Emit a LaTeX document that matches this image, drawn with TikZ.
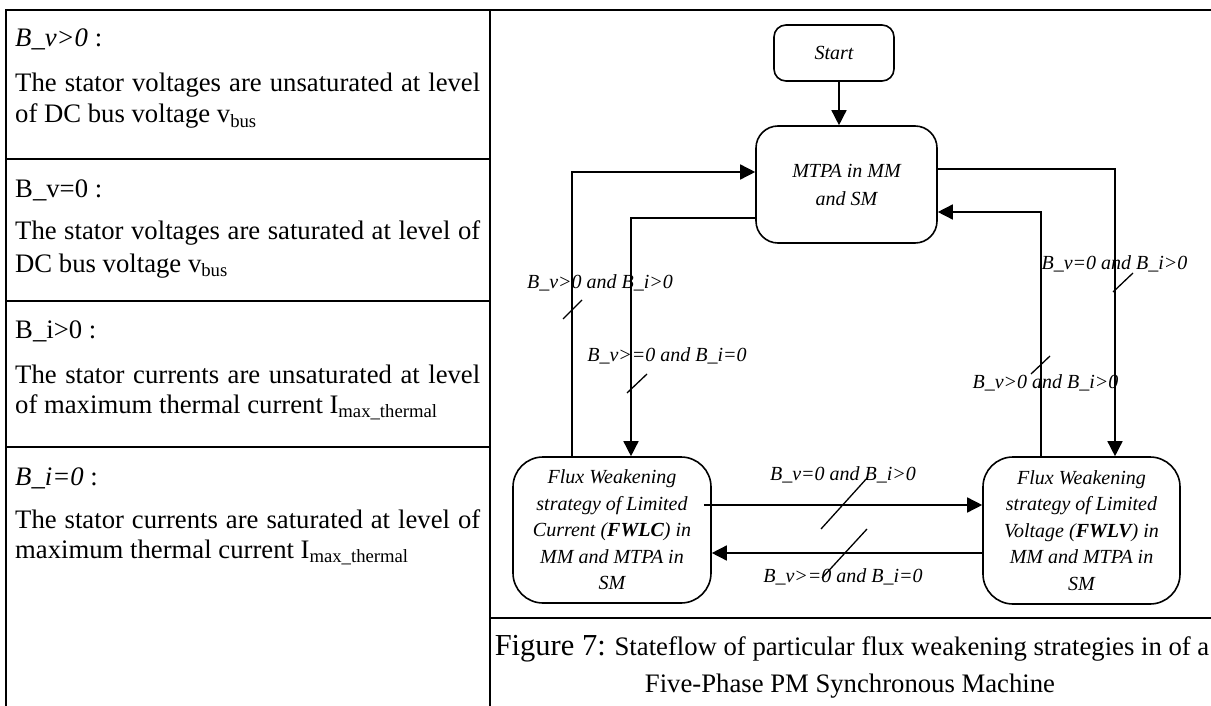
\documentclass[tikz,border=0pt]{standalone}
\usepackage{fontspec}
\setmainfont{Liberation Serif}
\usetikzlibrary{arrows.meta,calc}
\newcommand{\tabfont}{\fontsize{26.7pt}{31pt}\selectfont}
\newcommand{\diagfont}{\fontsize{20pt}{26.5pt}\selectfont\itshape}
\newcommand{\capbig}{\fontsize{30.5pt}{36pt}\selectfont}
\tikzset{
  border/.style={line width=2pt},
  tline/.style={anchor=base west, inner sep=0pt, font=\tabfont},
  capline/.style={anchor=base, inner sep=0pt, font=\tabfont},
  state/.style={draw, line width=1.6pt, align=center, inner sep=0pt, font=\diagfont},
  conn/.style={line width=1.5pt},
  arr/.style={conn, -{Triangle[length=15pt,width=15pt]}},
  lbl/.style={inner sep=0pt, font=\diagfont},
  tick/.style={line width=1.3pt}
}
\begin{document}
\begin{tikzpicture}[x=1pt,y=-1pt]
\useasboundingbox (0,0) rectangle (1211,706);
% ---- frame ----
\draw[border] (6,706) -- (6,10) -- (1213,10);
\draw[border] (490,10) -- (490,706);
\draw[border] (6,159) -- (490,159);
\draw[border] (6,301) -- (490,301);
\draw[border] (6,447) -- (490,447);
\draw[border] (490,618) -- (1213,618);
% ---- left table ----
\node[tline] (h1) at (15,47) {\textit{B\_v>0} :};
\node[tline] (p1a) at (15,92) {\makebox[465pt][s]{The stator voltages are unsaturated at level}};
\node[tline] (p1b) at (15,123) {of DC bus voltage v\textsubscript{bus}};
\node[tline] (h2) at (15,197) {B\_v=0 :};
\node[tline] (p2a) at (15,240) {\makebox[465pt][s]{The stator voltages are saturated at level of}};
\node[tline] (p2b) at (15,272) {DC bus voltage v\textsubscript{bus}};
\node[tline] (h3) at (15,338) {B\_i>0 :};
\node[tline] (p3a) at (15,383) {\makebox[465pt][s]{The stator currents are unsaturated at level}};
\node[tline] (p3b) at (15,413) {of maximum thermal current I\textsubscript{max\_thermal}};
\node[tline] (h4) at (15,485) {\textit{B\_i=0} :};
\node[tline] (p4a) at (15,528) {\makebox[465pt][s]{The stator currents are saturated at level of}};
\node[tline] (p4b) at (15,558) {maximum thermal current I\textsubscript{max\_thermal}};
% ---- states ----
\node[state, rounded corners=12pt, minimum width=120pt, minimum height=56pt] (start) at (834,53) {Start};
\node[state, rounded corners=22pt, minimum width=181pt, minimum height=117pt,
      font=\fontsize{20pt}{28pt}\selectfont\itshape] (mtpa) at (846.5,184.5) {\raisebox{-4pt}{MTPA in MM}\\\raisebox{-4pt}{and SM}};
\node[state, rounded corners=30pt, minimum width=198pt, minimum height=146pt] (fwlc) at (612,530) {Flux Weakening\\strategy of Limited\\Current (\textbf{FWLC}) in\\MM and MTPA in\\SM};
\node[state, rounded corners=30pt, minimum width=197pt, minimum height=147pt] (fwlv) at (1081.5,530.5) {Flux Weakening\\strategy of Limited\\Voltage (\textbf{FWLV}) in\\MM and MTPA in\\SM};
% ---- connectors ----
\coordinate (sA) at ($(start.south)+(5,0)$);
\draw[arr] (sA) -- (sA |- mtpa.north);
\coordinate (cLO) at (572,172);
\draw[arr] (fwlc.north -| cLO) -- (cLO) -- (mtpa.west |- cLO);
\coordinate (cLI) at (631,218);
\draw[arr] (mtpa.west |- cLI) -- (cLI) -- (fwlc.north -| cLI);
\coordinate (cRO) at (1115,169);
\draw[arr] (mtpa.east |- cRO) -- (cRO) -- (fwlv.north -| cRO);
\coordinate (cRI) at (1041,212);
\draw[arr] (fwlv.north -| cRI) -- (cRI) -- (mtpa.east |- cRI);
\coordinate (cT) at (0,505);
\draw[arr] ($(fwlc.east |- cT)+(-8,0)$) -- (fwlv.west |- cT);
\coordinate (cB) at (0,553);
\draw[arr] (fwlv.west |- cB) -- (fwlc.east |- cB);
% ---- labels ----
\node[lbl] (l1) at (600,283) {B\_v>0 and B\_i>0};
\node[lbl] (l2) at (667,356) {B\_v>=0 and B\_i=0};
\node[lbl] (l3) at (1114.5,264) {B\_v=0 and B\_i>0};
\node[lbl] (l4) at (1045.5,383) {B\_v>0 and B\_i>0};
\node[lbl] (l5) at (843,475) {B\_v=0 and B\_i>0};
\node[lbl] (l6) at (843,577) {B\_v>=0 and B\_i=0};
% ---- ticks ----
\draw[tick] (582,300) -- (563,319);
\draw[tick] (647,374) -- (627,393);
\draw[tick] (1133,273) -- (1113,292);
\draw[tick] (1050,356) -- (1031,374);
\draw[tick] (868,477) -- (821,529);
\draw[tick] (867,529) -- (822,578);
% ---- caption ----
\node[capline] (cap1) at (852,655) {{\capbig Figure 7:} Stateflow of particular flux weakening strategies in of a};
\node[capline] (cap2) at (850,692) {Five-Phase PM Synchronous Machine};
\end{tikzpicture}
\end{document}
